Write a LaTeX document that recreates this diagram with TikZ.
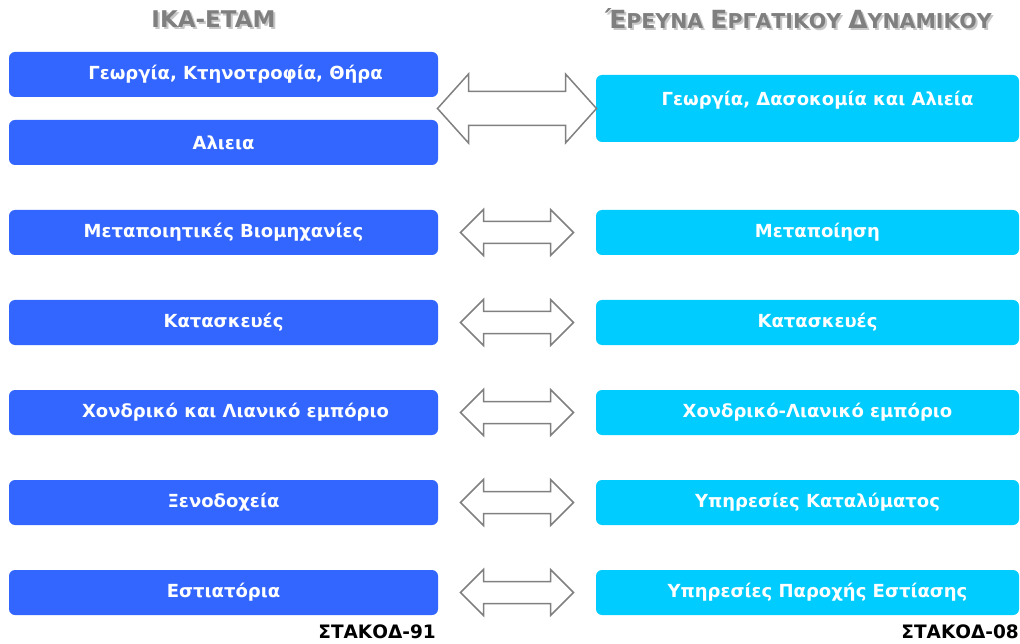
\documentclass[tikz,border=0pt]{standalone}
\usepackage{fontspec}
\setmainfont{DejaVu Sans}
\usetikzlibrary{calc}

\newlength{\du}
\setlength{\du}{1pt}
\newcommand{\boxfont}{\fontsize{18}{21}\selectfont\bfseries}
\newcommand{\headfont}{\fontsize{23}{26}\selectfont\bfseries}
\newcommand{\capsfont}{\fontsize{20.5}{24}\selectfont\bfseries}
\newcommand{\headcap}[1]{{\fontsize{25}{28}\selectfont #1}}
\newcommand{\codefont}{\fontsize{18.5}{21}\selectfont\bfseries}
% block arrow round a centre: half length, head length, half head width,
% head step, shaft length
\newcommand{\twowayarrow}[6]{%
\draw[twoway] ($(#1)+(-#2\du,0\du)$) -- ++(#3\du,-#4\du) -- ++(0\du,#5\du)
  -- ++(#6\du,0\du) -- ++(0\du,-#5\du) -- ++(#3\du,#4\du) -- ++(-#3\du,#4\du)
  -- ++(0\du,-#5\du) -- ++(-#6\du,0\du) -- ++(0\du,#5\du) -- cycle;}

\tikzset{
  ikabox/.style={rectangle, rounded corners=6\du, fill=ikablue, text=white,
    font=\boxfont, minimum width=429\du, minimum height=45\du, inner sep=0pt},
  ergbox/.style={ikabox, fill=ergcyan, minimum width=423\du,
    execute at begin node={\hspace*{20\du}}},
  pushright/.style={execute at begin node={\hspace*{24\du}}},
  twoway/.style={draw=arrowgray, fill=white, line width=1.5\du},
  headline/.style={text=headgray, inner sep=0pt},
  headshade/.style={text=shadegray, inner sep=0pt},
}

\begin{document}
\begin{tikzpicture}
\pgftransformyscale{-1.000000}
\definecolor{ikablue}{rgb}{0.200000, 0.400000, 1.000000}
\definecolor{ergcyan}{rgb}{0.000000, 0.800000, 1.000000}
\definecolor{arrowgray}{rgb}{0.500000, 0.500000, 0.500000}
\definecolor{headgray}{rgb}{0.498039, 0.498039, 0.498039}
\definecolor{shadegray}{rgb}{0.780392, 0.780392, 0.780392}
\useasboundingbox (0\du,0\du) rectangle (1020\du,644\du);
% headings
\node[headshade,font=\headfont] (ikashade) at (215.5\du,21\du){IKA-ETAM};
\node[headline,font=\headfont] (ikahead) at (213.5\du,19\du){IKA-ETAM};
\node[headshade,font=\capsfont] (ergshade) at (800.5\du,21\du){\headcap{Έ}ΡΕΥΝΑ \headcap{Ε}ΡΓΑΤΙΚΟΥ \headcap{Δ}ΥΝΑΜΙΚΟΥ};
\node[headline,font=\capsfont] (erghead) at (798.5\du,19\du){\headcap{Έ}ΡΕΥΝΑ \headcap{Ε}ΡΓΑΤΙΚΟΥ \headcap{Δ}ΥΝΑΜΙΚΟΥ};
% ika-etam
\node[ikabox,pushright] (ika1) at (223.5\du,74.5\du){Γεωργία, Κτηνοτροφία, Θήρα};
\node[ikabox] (ika2) at (223.5\du,142.5\du){Αλιεια};
\node[ikabox] (ika3) at (223.5\du,232.5\du){Μεταποιητικές Βιομηχανίες};
\node[ikabox] (ika4) at (223.5\du,322.5\du){Κατασκευές};
\node[ikabox,pushright] (ika5) at (223.5\du,412.5\du){Χονδρικό και Λιανικό εμπόριο};
\node[ikabox] (ika6) at (223.5\du,502.5\du){Ξενοδοχεία};
\node[ikabox] (ika7) at (223.5\du,592.5\du){Εστιατόρια};
% erevna ergatikou dynamikou
\node[ergbox,minimum height=67\du,text height=14\du,text depth=19\du] (erg1) at (807.5\du,108.5\du){Γεωργία, Δασοκομία και Αλιεία};
\node[ergbox] (erg2) at (807.5\du,232.5\du){Μεταποίηση};
\node[ergbox] (erg3) at (807.5\du,322.5\du){Κατασκευές};
\node[ergbox] (erg4) at (807.5\du,412.5\du){Χονδρικό-Λιανικό εμπόριο};
\node[ergbox] (erg5) at (807.5\du,502.5\du){Υπηρεσίες Καταλύματος};
\node[ergbox] (erg6) at (807.5\du,592.5\du){Υπηρεσίες Παροχής Εστίασης};
% arrows
\coordinate (map1) at ($(ika1.east |- erg1.west)!0.5!(erg1.west)$);
\coordinate (map2) at ($(ika3.east)!0.5!(erg2.west)$);
\coordinate (map3) at ($(ika4.east)!0.5!(erg3.west)$);
\coordinate (map4) at ($(ika5.east)!0.5!(erg4.west)$);
\coordinate (map5) at ($(ika6.east)!0.5!(erg5.west)$);
\coordinate (map6) at ($(ika7.east)!0.5!(erg6.west)$);
\twowayarrow{map1}{79.5}{31}{34.5}{17.5}{97}
\twowayarrow{map2}{56.5}{23}{23}{12}{67}
\twowayarrow{map3}{56.5}{23}{23}{12}{67}
\twowayarrow{map4}{56.5}{23}{23}{12}{67}
\twowayarrow{map5}{56.5}{23}{23}{12}{67}
\twowayarrow{map6}{56.5}{23}{23}{12}{67}
% codes
\node[anchor=base east,inner sep=0pt,font=\codefont] (stakod91) at (436\du,638\du){ΣΤΑΚΟΔ-91};
\node[anchor=base east,inner sep=0pt,font=\codefont] (stakod08) at (1019\du,638\du){ΣΤΑΚΟΔ-08};
\end{tikzpicture}
\end{document}
